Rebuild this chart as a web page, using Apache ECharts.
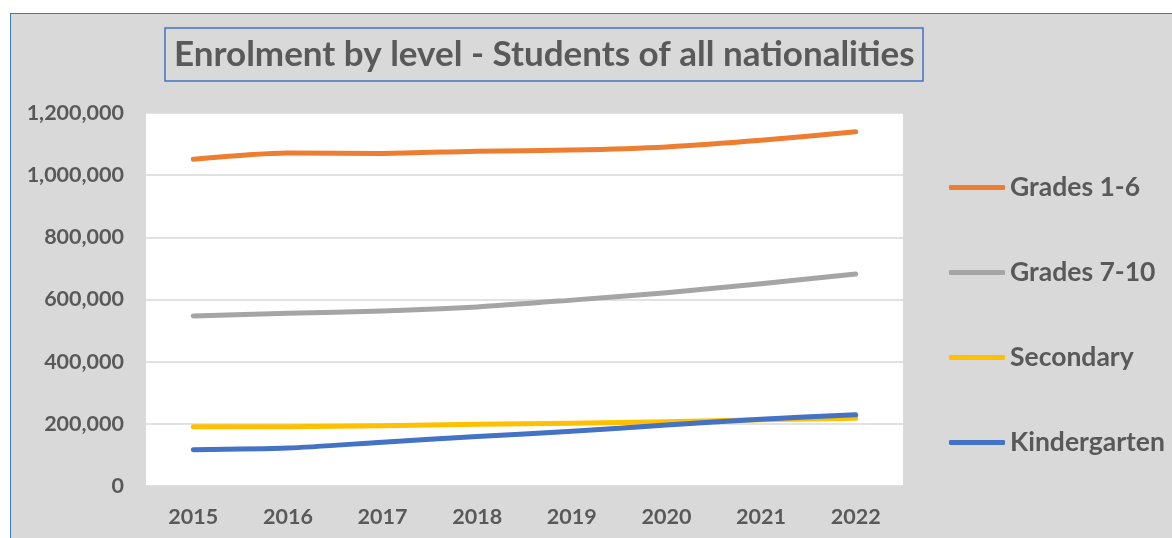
<!DOCTYPE html>
<html>
<head>
<meta charset="utf-8">
<script src="https://cdn.jsdelivr.net/npm/echarts@6/dist/echarts.min.js"></script>
<style>
  html, body { margin: 0; padding: 0; background: #ffffff; overflow: hidden; }
  #frame {
    position: absolute; left: 10px; top: 13px; width: 1200px; height: 600px;
    border: 1.5px solid #3a7cc2; background: #d9d9d9; box-sizing: border-box;
  }
  #chart { position: absolute; left: 11px; top: 14px; width: 1161px; height: 524px; }
</style>
</head>
<body>
<div id="frame"></div>
<div id="chart"></div>
<script>
// Enrolment by school level, students of all nationalities
const years = ['2015', '2016', '2017', '2018', '2019', '2020', '2021', '2022'];
const grades1to6 = [1051000, 1071000, 1070000, 1077000, 1081000, 1091000, 1112000, 1140000];
const grades7to10 = [547000, 556000, 563000, 576000, 598000, 622000, 651000, 682000];
const secondary = [191000, 191000, 194000, 199000, 202000, 207000, 213000, 218000];
const kindergarten = [117000, 122000, 141000, 159000, 176000, 196000, 215000, 229000];
const yTicks = [0, 200000, 400000, 600000, 800000, 1000000, 1200000];

const textColor = '#595959';
const font = 'Lato, "Open Sans", sans-serif';

const chart = echarts.init(document.getElementById('chart'));

function lineSeries(name, data, color) {
  return {
    name: name,
    type: 'line',
    data: data,
    smooth: 0.25,
    symbol: 'none',
    lineStyle: { color: color, width: 5, cap: 'round', join: 'round' },
    itemStyle: { color: color }
  };
}

chart.setOption({
  backgroundColor: '#d9d9d9',
  animation: false,
  title: {
    text: 'Enrolment by level - Students of all nationalities',
    left: 154,
    top: 14,
    padding: [6, 9, 5, 9],
    borderColor: '#4472c4',
    borderWidth: 1.5,
    textStyle: { color: textColor, fontFamily: font, fontWeight: 'bold', fontSize: 35, lineHeight: 42 }
  },
  legend: {
    orient: 'vertical',
    left: 938,
    top: 160,
    padding: 0,
    itemWidth: 56,
    itemHeight: 5,
    itemGap: 58,
    icon: 'roundRect',
    data: ['Grades 1-6', 'Grades 7-10', 'Secondary', 'Kindergarten'],
    textStyle: { color: textColor, fontFamily: font, fontWeight: 'bold', fontSize: 26.5 }
  },
  grid: {
    left: 135, right: 269, top: 99, bottom: 52,
    show: true, backgroundColor: '#ffffff', borderWidth: 0,
    containLabel: false
  },
  xAxis: {
    type: 'category',
    data: years,
    boundaryGap: true,
    axisLine: { show: false },
    axisTick: { show: false },
    axisLabel: { color: textColor, fontFamily: font, fontWeight: 'bold', fontSize: 21.5, margin: 20 }
  },
  yAxis: {
    type: 'value',
    min: yTicks[0],
    max: yTicks[yTicks.length - 1],
    interval: 200000,
    axisLine: { show: false },
    axisTick: { show: false },
    splitLine: { lineStyle: { color: '#d9d9d9', width: 1.5 } },
    axisLabel: {
      color: textColor, fontFamily: font, fontWeight: 'bold', fontSize: 21.5, margin: 22,
      formatter: v => v.toLocaleString('en-US')
    }
  },
  series: [
    lineSeries('Grades 1-6', grades1to6, '#ed7d31'),
    lineSeries('Grades 7-10', grades7to10, '#a5a5a5'),
    lineSeries('Secondary', secondary, '#ffc000'),
    lineSeries('Kindergarten', kindergarten, '#4472c4')
  ]
});
</script>
</body>
</html>
